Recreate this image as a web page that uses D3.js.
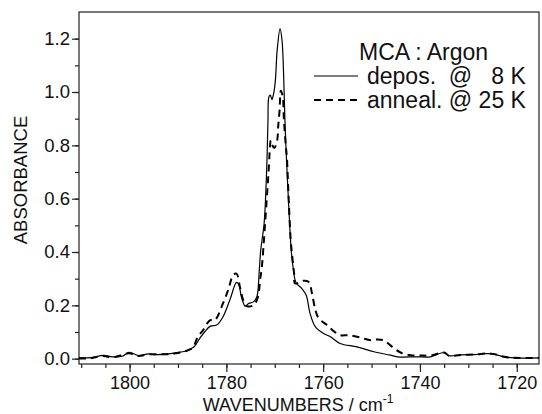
<!DOCTYPE html>
<html>
<head>
<meta charset="utf-8">
<script src="https://cdn.jsdelivr.net/npm/d3@7"></script>
<style>
  body { margin: 0; background: #fff; }
  svg { display: block; font-family: "Liberation Sans", Arial, sans-serif; }
  .legend text { white-space: pre; }
</style>
</head>
<body>
<svg width="542" height="414"></svg>
<script>
// deposited at 8 K (solid line)
var depWave = [1810.5, 1808, 1805.4, 1803.5, 1801.5, 1800.1, 1798.2, 1796.1, 1795, 1792, 1790.5, 1788.5, 1787.6, 1786.7,
  1785.5, 1784.5, 1783.3, 1782.0, 1780.7, 1779.3, 1777.9, 1777.4, 1776.9, 1776.1, 1775.4, 1774.4, 1773.7, 1773.2,
  1772.9, 1772.2, 1771.7, 1771.5, 1771.4, 1771.2, 1770.9, 1770.6, 1770.3, 1769.9, 1769.5, 1768.9, 1768.5, 1768.2,
  1767.9, 1767.6, 1767.1, 1766.6, 1766.2, 1765.6, 1764.4, 1763.5, 1762.7, 1761.6, 1759.9, 1758.5, 1756.5, 1753.0,
  1749.5, 1746.1, 1744.7, 1740.6, 1737.8, 1735.0, 1734.0, 1731.6, 1728.1, 1726.7, 1725.0, 1722.6, 1720.5, 1715.4];
var depAbs = [0.003, 0.004, 0.012, 0.007, 0.009, 0.024, 0.012, 0.018, 0.015, 0.018, 0.022, 0.028, 0.036, 0.044,
  0.076, 0.100, 0.122, 0.126, 0.157, 0.219, 0.286, 0.276, 0.232, 0.197, 0.207, 0.213, 0.232, 0.332,
  0.407, 0.507, 0.694, 0.819, 0.894, 0.982, 0.988, 0.972, 0.988, 1.038, 1.157, 1.238, 1.194, 1.082,
  0.894, 0.757, 0.569, 0.407, 0.340, 0.285, 0.263, 0.238, 0.169, 0.119, 0.094, 0.082, 0.057, 0.044,
  0.026, 0.013, 0.007, 0.007, 0.007, 0.023, 0.011, 0.014, 0.016, 0.019, 0.018, 0.007, 0.003, 0.003];

// annealed at 25 K (dashed line)
var annWave = [1810.5, 1808, 1805.4, 1803.5, 1800.1, 1798.2, 1796.1, 1792, 1790.5, 1788.5, 1787, 1785.9, 1784.8,
  1783.4, 1782.4, 1780.7, 1779.6, 1778.6, 1777.9, 1777.2, 1776.4, 1775.8, 1774.4, 1773.5, 1773.0, 1772.7, 1772.0,
  1771.3, 1770.8, 1770.5, 1770.1, 1769.5, 1769.3, 1769.0, 1768.75, 1768.35, 1768.1, 1767.7, 1767.5, 1767.2, 1766.7,
  1766.3, 1766.0, 1765.8, 1764.1, 1763.0, 1762.3, 1761.6, 1760.9, 1759.2, 1758.2, 1756.5, 1754.7, 1752.3, 1750.2,
  1748.8, 1747.5, 1745.7, 1744.0, 1741.9, 1740, 1737.8, 1735.0, 1734.0, 1731.6, 1728.1, 1726.7, 1725.0, 1722.6,
  1720.5, 1715.4];
var annAbs = [0.001, 0.002, 0.010, 0.005, 0.020, 0.010, 0.016, 0.017, 0.020, 0.028, 0.040, 0.082, 0.107,
  0.144, 0.144, 0.207, 0.259, 0.313, 0.319, 0.269, 0.213, 0.197, 0.200, 0.230, 0.300, 0.338, 0.507,
  0.694, 0.819, 0.800, 0.790, 0.819, 0.869, 0.932, 1.005, 0.982, 0.894, 0.794, 0.757, 0.632, 0.444,
  0.369, 0.319, 0.282, 0.292, 0.288, 0.244, 0.182, 0.151, 0.126, 0.109, 0.088, 0.088, 0.079, 0.069,
  0.072, 0.069, 0.044, 0.023, 0.013, 0.012, 0.012, 0.023, 0.011, 0.014, 0.016, 0.019, 0.018, 0.007,
  0.003, 0.003];

var xTicks = [1800, 1780, 1760, 1740, 1720];
var yTicks = [0.0, 0.2, 0.4, 0.6, 0.8, 1.0, 1.2];
var legendTitle = "MCA : Argon";
var legendLabels = ["depos.  @   8 K", "anneal. @ 25 K"];

var svg = d3.select("svg"),
	margin = {top: 12, right: 3, bottom: 50, left: 79},
	width = +svg.attr("width") - margin.left - margin.right,
	height = +svg.attr("height") - margin.top - margin.bottom,
	g = svg.append("g").attr("transform", "translate(" + margin.left + "," + margin.top + ")");

var x = d3.scaleLinear().domain([1810.45, 1715.4]).range([0, width]);
var y = d3.scaleLinear().domain([-0.02, 1.3]).range([height, 0]);

var line = d3.line()
	.x(function(d) { return x(d[0]); })
	.y(function(d) { return y(d[1]); })
	.curve(d3.curveCatmullRom.alpha(0.5));

var dep = d3.zip(depWave, depAbs),
	ann = d3.zip(annWave, annAbs);

// frame
g.append("rect")
	.attr("width", width)
	.attr("height", height)
	.attr("fill", "none")
	.attr("stroke", "#222")
	.attr("stroke-width", 1.2);

// minor ticks
g.append("g")
	.attr("transform", "translate(0," + height + ")")
	.call(d3.axisBottom(x).tickValues(d3.range(1810, 1715, -5)).tickSize(4).tickFormat(""))
	.call(function(a) { a.select(".domain").remove(); });
g.append("g")
	.call(d3.axisLeft(y).tickValues(d3.range(0, 1.25, 0.1)).tickSize(4).tickFormat(""))
	.call(function(a) { a.select(".domain").remove(); });

// major ticks
var xAxis = g.append("g")
	.attr("transform", "translate(0," + height + ")")
	.call(d3.axisBottom(x).tickValues(xTicks).tickSize(8).tickPadding(4).tickFormat(d3.format("d")));
var yAxis = g.append("g")
	.call(d3.axisLeft(y).tickValues(yTicks).tickSize(7).tickPadding(2).tickFormat(d3.format(".1f")));

[xAxis, yAxis].forEach(function(a) {
	a.select(".domain").remove();
	a.selectAll("text").attr("font-size", 18.5).attr("fill", "#111").attr("font-family", "Liberation Sans, Arial, sans-serif");
});
xAxis.selectAll("text").attr("font-size", 18);
g.selectAll(".tick line").attr("stroke", "#222").attr("stroke-width", 1.2);

// curves
g.append("path")
	.datum(dep)
	.attr("d", line)
	.attr("fill", "none")
	.attr("stroke", "#000")
	.attr("stroke-width", 1.2);

g.append("path")
	.datum(ann)
	.attr("d", line)
	.attr("fill", "none")
	.attr("stroke", "#000")
	.attr("stroke-width", 2)
	.attr("stroke-dasharray", "7,5");

// axis titles
svg.append("text")
	.attr("transform", "translate(27,180) rotate(-90)")
	.attr("text-anchor", "middle")
	.attr("font-size", 18.5)
	.attr("fill", "#111")
	.text("ABSORBANCE");

var xt = svg.append("text")
	.attr("x", 298)
	.attr("y", 411)
	.attr("text-anchor", "middle")
	.attr("font-size", 18)
	.attr("fill", "#111")
	.text("WAVENUMBERS / cm");
xt.append("tspan")
	.attr("dy", -8)
	.attr("font-size", 12)
	.text("-1");

// legend
var legend = svg.append("g").attr("class", "legend").attr("font-size", 23).attr("fill", "#111");
legend.append("text")
	.attr("x", 359)
	.attr("y", 60)
	.text(legendTitle);

var rows = legend.selectAll("g.row")
	.data(legendLabels)
	.enter().append("g")
		.attr("class", "row")
		.attr("transform", function(d, i) { return "translate(0," + (76 + i * 24) + ")"; });

rows.append("line")
	.attr("x1", 314)
	.attr("x2", 358)
	.attr("stroke", "#000")
	.attr("stroke-width", function(d, i) { return i ? 2 : 1.2; })
	.attr("stroke-dasharray", function(d, i) { return i ? "7,5" : null; });

rows.append("text")
	.attr("x", 367)
	.attr("y", 8)
	.text(function(d) { return d; });
</script>
</body>
</html>
